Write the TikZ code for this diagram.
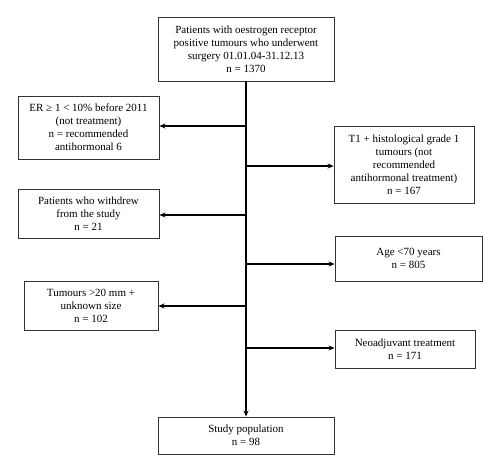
\documentclass[tikz,border=0pt]{standalone}
\usepackage{fontspec}
\setmainfont{Liberation Serif}
\usetikzlibrary{arrows.meta}
\begin{document}
\begin{tikzpicture}[x=1pt,y=-1pt,
  box/.style={draw=black!80,line width=0.9pt,align=center,inner sep=2pt,
    font=\fontsize{11}{13}\selectfont},
  conn/.style={draw=black,line width=1.1pt,-{Stealth[length=6pt,width=5pt]}}]
\useasboundingbox[fill=white] (0,0) rectangle (500,472);
\node[box,minimum width=176pt,minimum height=64pt] (top) at (246,49)
  {Patients with oestrogen receptor\\positive tumours who underwent\\surgery 01.01.04-31.12.13\\n = 1370};
\node[box,minimum width=141pt,minimum height=63pt] (er) at (88.5,127.5)
  {ER ≥ 1 < 10\% before 2011\\(not treatment)\\n = recommended\\antihormonal 6};
\node[box,minimum width=141pt,minimum height=49pt] (wd) at (88.5,213.5)
  {Patients who withdrew\\from the study\\n = 21};
\node[box,minimum width=140pt,minimum height=77pt] (t1) at (404,164.5)
  {T1 + histological grade 1\\tumours (not\\recommended\\antihormonal treatment)\\n = 167};
\node[box,minimum width=147pt,minimum height=45pt] (age) at (408.5,258.5)
  {Age <70 years\\n = 805};
\node[box,minimum width=134pt,minimum height=49pt] (tum) at (91,305.5)
  {Tumours >20 mm +\\unknown size\\n = 102};
\node[box,minimum width=140pt,minimum height=38pt] (neo) at (405,349)
  {Neoadjuvant treatment\\n = 171};
\node[box,minimum width=176pt,minimum height=37pt] (st) at (246,435.5)
  {Study population\\n = 98};
\coordinate (cer) at (246,126);
\coordinate (cwd) at (246,215);
\coordinate (ct1) at (246,166);
\coordinate (cage) at (246,264);
\coordinate (ctum) at (246,306);
\coordinate (cneo) at (246,348);
\draw[conn] (top.south) -- (st.north);
\draw[conn] (cer) -- (cer -| er.east);
\draw[conn] (cwd) -- (cwd -| wd.east);
\draw[conn] (ct1) -- (ct1 -| t1.west);
\draw[conn] (cage) -- (cage -| age.west);
\draw[conn] (ctum) -- (ctum -| tum.east);
\draw[conn] (cneo) -- (cneo -| neo.west);
\end{tikzpicture}
\end{document}
